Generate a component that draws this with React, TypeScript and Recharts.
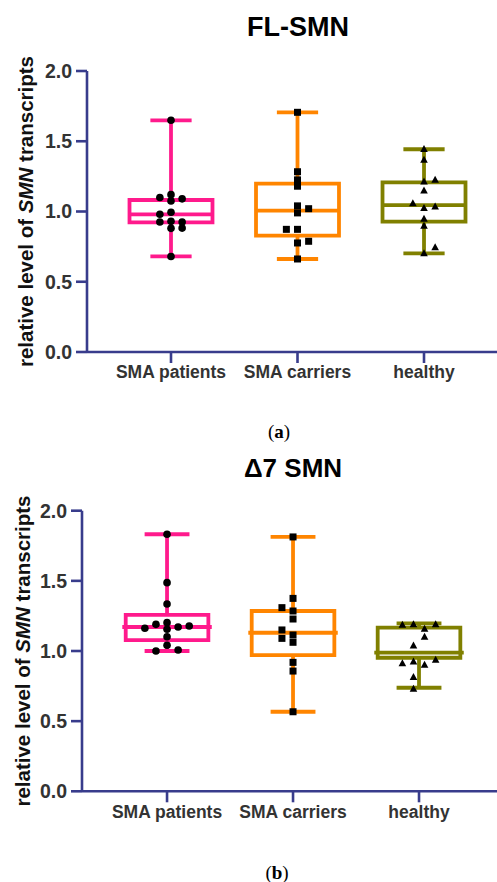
import {
  ComposedChart,
  Scatter,
  XAxis,
  YAxis,
  ReferenceArea,
  ReferenceLine,
  Label,
} from "recharts";

const groups = ["SMA patients", "SMA carriers", "healthy"];
const groupColors = ["#FF1A8C", "#FF8500", "#808000"];
const yTicks = [0, 0.5, 1, 1.5, 2];
const xTicks = [1, 2, 3];

const AXIS = "#383C8C";
const FONT = "'Liberation Sans', Arial, sans-serif";
const LANE = 0.088; // swarm column width, in category units

// (a) FL-SMN, values and swarm column of every point
const flPatients = [1.65, 1.12, 1.1, 1.09, 1.075, 0.995, 0.98, 0.93, 0.925, 0.925, 0.882, 0.88, 0.68];
const flPatientsCol = [0, 0, -1, 1, 0, 0, -1, 0, -1, 1, 1, 0, 0];
const flCarriers = [1.706, 1.283, 1.225, 1.18, 1.04, 1.02, 0.99, 0.873, 0.873, 0.788, 0.776, 0.662];
const flCarriersCol = [0, 0, 0, 0, 0, 1, 0, -1, 0, 1, 0, 0];
const flHealthy = [1.443, 1.367, 1.224, 1.212, 1.148, 1.058, 1.034, 1.023, 0.947, 0.897, 0.745, 0.702];
const flHealthyCol = [0, 0, 1, 0, 0, -1, 1, 0, 0, 0, 1, 0];

// box stats: [min, q1, median, q3, max]
const flPatientsBox = [0.681, 0.923, 0.98, 1.082, 1.649];
const flCarriersBox = [0.662, 0.828, 1.006, 1.198, 1.706];
const flHealthyBox = [0.702, 0.928, 1.046, 1.208, 1.443];

// (b) Δ7 SMN
const d7Patients = [1.832, 1.487, 1.335, 1.202, 1.19, 1.178, 1.171, 1.162, 1.155, 1.102, 1.041, 1.007, 1.0];
const d7PatientsCol = [0, 0, 0, 0, -1, 2, 1, -2, 0, 0, 0, 1, -1];
const d7Carriers = [1.813, 1.375, 1.309, 1.285, 1.228, 1.15, 1.114, 1.09, 1.062, 0.919, 0.857, 0.567];
const d7CarriersCol = [0, 0, -1, 0, 0, -1, 0, -1, 0, 0, 0, 0];
const d7Healthy = [1.19, 1.19, 1.185, 1.157, 1.1, 1.038, 0.936, 0.924, 0.912, 0.9, 0.813, 0.729];
const d7HealthyCol = [-0.5, 1.5, -1.5, 0.5, 0.5, -0.5, 1.5, -0.5, -1.5, 0.5, -0.5, -0.5];

const d7PatientsBox = [1.0, 1.078, 1.171, 1.257, 1.832];
const d7CarriersBox = [0.567, 0.971, 1.13, 1.285, 1.813];
const d7HealthyBox = [0.738, 0.952, 0.988, 1.166, 1.197];

const Dot = (p: any) => <circle cx={p.cx} cy={p.cy} r={3.8} fill="#000" />;
const Square = (p: any) => (
  <rect x={p.cx - 3.5} y={p.cy - 3.5} width={7} height={7} fill="#000" />
);
const Triangle = (p: any) => (
  <path
    d={`M${p.cx},${p.cy - 4.2}L${p.cx + 3.8},${p.cy + 2.8}L${p.cx - 3.8},${p.cy + 2.8}Z`}
    fill="#000"
  />
);
const shapes = [Dot, Square, Triangle];

type PanelProps = {
  title: string;
  caption: string;
  top: number;
  values: number[][];
  cols: number[][];
  boxes: number[][];
  domain: [number, number];
  yAxisWidth: number;
  plotTop: number;
  plotBottom: number;
  medianHalf: number;
  capHalf: number;
  labelX: number;
  titleX: number;
  titleSize: number;
  captionX: number;
  captionY: number;
};

function Panel(props: PanelProps) {
  const {
    values, cols, boxes, domain, yAxisWidth, plotTop, plotBottom,
    medianHalf, capHalf, labelX,
  } = props;
  const height = 400;
  const xAxisHeight = 40;

  const YLabel = ({ viewBox }: any) => {
    const cy = viewBox && viewBox.height ? viewBox.y + viewBox.height / 2 : (plotTop + plotBottom) / 2;
    return (
      <text
        transform={`translate(${labelX},${cy}) rotate(-90)`}
        textAnchor="middle"
        dominantBaseline="central"
        fontFamily={FONT}
        fontWeight="bold"
        fontSize={20.5}
        fill="#111"
      >
        relative level of <tspan fontStyle="italic">SMN</tspan> transcripts
      </text>
    );
  };

  return (
    <div style={{ position: "absolute", left: 0, top: props.top, width: 497, height: 440 }}>
      <div
        style={{
          position: "absolute",
          left: props.titleX - 150,
          width: 300,
          top: 37 - props.titleSize * 0.85,
          textAlign: "center",
          fontFamily: FONT,
          fontWeight: "bold",
          fontSize: props.titleSize,
          lineHeight: 1,
          color: "#000",
        }}
      >
        {props.title}
      </div>
      <ComposedChart
        width={497}
        height={height}
        margin={{ top: plotTop, right: 0, bottom: height - plotBottom - xAxisHeight, left: 0 }}
      >
        <XAxis
          type="number"
          dataKey="x"
          domain={domain}
          ticks={xTicks}
          interval={0}
          allowDataOverflow
          height={xAxisHeight}
          tickFormatter={(v: number) => groups[v - 1]}
          tick={{ fontSize: 17.5, fontWeight: "bold", fill: "#333", fontFamily: FONT }}
          tickSize={11}
          tickMargin={3}
          axisLine={{ stroke: AXIS, strokeWidth: 2.6 }}
          tickLine={{ stroke: AXIS, strokeWidth: 2.6 }}
        />
        <YAxis
          type="number"
          dataKey="y"
          domain={[0, 2]}
          ticks={yTicks}
          interval={0}
          width={yAxisWidth}
          tickFormatter={(v: number) => v.toFixed(1)}
          tick={{ fontSize: 19.5, fontWeight: "bold", fill: "#333", fontFamily: FONT }}
          tickSize={11}
          tickMargin={4}
          axisLine={{ stroke: AXIS, strokeWidth: 2.6 }}
          tickLine={{ stroke: AXIS, strokeWidth: 2.6 }}
        >
          <Label content={YLabel} />
        </YAxis>
        {boxes.map((b, g) => {
          const c = g + 1;
          const color = groupColors[g];
          const [min, q1, med, q3, max] = b;
          return [
            <ReferenceArea
              key={`box${g}`}
              x1={c - 0.328}
              x2={c + 0.328}
              y1={q1}
              y2={q3}
              fill="none"
              fillOpacity={0}
              stroke={color}
              strokeWidth={3.8}
              ifOverflow="visible"
            />,
            <ReferenceLine
              key={`med${g}`}
              segment={[{ x: c - medianHalf, y: med }, { x: c + medianHalf, y: med }]}
              stroke={color}
              strokeWidth={3.8}
              ifOverflow="visible"
            />,
            <ReferenceLine
              key={`wl${g}`}
              segment={[{ x: c, y: min }, { x: c, y: q1 }]}
              stroke={color}
              strokeWidth={3.8}
              ifOverflow="visible"
            />,
            <ReferenceLine
              key={`wh${g}`}
              segment={[{ x: c, y: q3 }, { x: c, y: max }]}
              stroke={color}
              strokeWidth={3.8}
              ifOverflow="visible"
            />,
            <ReferenceLine
              key={`cl${g}`}
              segment={[{ x: c - capHalf, y: min }, { x: c + capHalf, y: min }]}
              stroke={color}
              strokeWidth={3.8}
              ifOverflow="visible"
            />,
            <ReferenceLine
              key={`ch${g}`}
              segment={[{ x: c - capHalf, y: max }, { x: c + capHalf, y: max }]}
              stroke={color}
              strokeWidth={3.8}
              ifOverflow="visible"
            />,
          ];
        })}
        {values.map((vals, g) => (
          <Scatter
            key={`pts${g}`}
            data={vals.map((v, i) => ({ x: g + 1 + cols[g][i] * LANE, y: v }))}
            shape={shapes[g]}
            isAnimationActive={false}
          />
        ))}
      </ComposedChart>
      <div
        style={{
          position: "absolute",
          left: props.captionX - 50,
          width: 100,
          top: props.captionY - 11,
          textAlign: "center",
          fontFamily: "'Liberation Serif', 'DejaVu Serif', serif",
          fontSize: 19,
          lineHeight: "22px",
          color: "#000",
        }}
      >
        ({<b>{props.caption}</b>})
      </div>
    </div>
  );
}

export default function App() {
  return (
    <div style={{ position: "absolute", left: 0, top: 0, width: 497, height: 882, background: "#fff" }}>
      <Panel
        title="FL-SMN"
        caption="a"
        top={0}
        values={[flPatients, flCarriers, flHealthy]}
        cols={[flPatientsCol, flCarriersCol, flHealthyCol]}
        boxes={[flPatientsBox, flCarriersBox, flHealthyBox]}
        domain={[0.336, 3.577]}
        yAxisWidth={87}
        plotTop={71}
        plotBottom={352}
        medianHalf={0.328}
        capHalf={0.163}
        labelX={25}
        titleX={298}
        titleSize={27}
        captionX={279}
        captionY={432}
      />
      <Panel
        title="Δ7 SMN"
        caption="b"
        top={440}
        values={[d7Patients, d7Carriers, d7Healthy]}
        cols={[d7PatientsCol, d7CarriersCol, d7HealthyCol]}
        boxes={[d7PatientsBox, d7CarriersBox, d7HealthyBox]}
        domain={[0.325, 3.619]}
        yAxisWidth={82}
        plotTop={70.7}
        plotBottom={351.3}
        medianHalf={0.355}
        capHalf={0.178}
        labelX={22}
        titleX={293}
        titleSize={26}
        captionX={277}
        captionY={433}
      />
    </div>
  );
}
